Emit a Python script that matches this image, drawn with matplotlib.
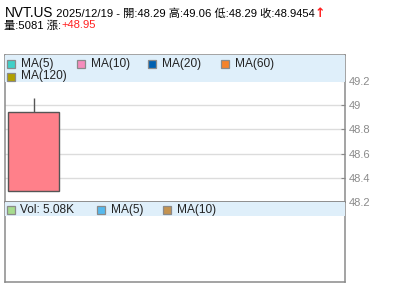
import matplotlib
matplotlib.use('Agg')
import matplotlib.pyplot as plt
from matplotlib.patches import Rectangle

# data
symbol = 'NVT.US'
date = '2025/12/19'
opens = [48.29]
highs = [49.06]
lows = [48.29]
closes = [48.9454]
volumes = [5081]
change = 48.95
yticks = [48.2, 48.4, 48.6, 48.8, 49.0, 49.2]
ma_names = ['MA(5)', 'MA(10)', 'MA(20)', 'MA(60)', 'MA(120)']
ma_colors = ['#3fd0c8', '#f58cbc', '#0060b0', '#f5822a', '#b0a000']
vol_names = ['MA(5)', 'MA(10)']
vol_colors = ['#55b9ee', '#c49350']

FONT = ['Liberation Sans', 'Noto Sans CJK TC', 'DejaVu Sans']
plt.rcParams['font.family'] = FONT

W, H = 400, 301
fig = plt.figure(figsize=(W / 100, H / 100), dpi=100)

def fx(px):
    return px / W

def fy(py):
    return 1 - py / H

frame_col = '#8a8a8a'
band_col = '#dfeffa'

# panels
ax = fig.add_axes([fx(5.3), fy(202), fx(345) - fx(5.3), fy(55) - fy(202)])
axv = fig.add_axes([fx(5.3), fy(282.3), fx(345) - fx(5.3), fy(202) - fy(282.3)])

for a in (ax, axv):
    for s in a.spines.values():
        s.set_color(frame_col)
        s.set_linewidth(1.1)

# candles
x = range(len(opens))
for i in x:
    o, h, l, c = opens[i], highs[i], lows[i], closes[i]
    up = c >= o
    ax.vlines(i, max(o, c), h, color='#555555', lw=1, zorder=3)
    ax.vlines(i, l, min(o, c), color='#555555', lw=1, zorder=3)
    ax.bar(i, abs(c - o), bottom=min(o, c), width=0.89,
           color='#ff808a' if up else '#7fd07f', edgecolor='#555555',
           linewidth=1, zorder=4)

ax.set_xlim(-0.5, 5.5)
ax.set_ylim(48.2, 49.415)
ax.set_xticks([])
ax.yaxis.tick_right()
ax.set_yticks(yticks)
ax.set_yticklabels(['%g' % t for t in yticks])
ax.tick_params(axis='y', direction='in', length=3, color=frame_col,
               labelcolor='#8a8a8a', labelsize=8, pad=3)
for t in yticks[1:-1]:
    ax.axhline(t, color='#dcdcdc', lw=1, zorder=1)

# legend bands
ax.add_patch(Rectangle((0, (202 - 82) / 147), 1, 1 - (202 - 82) / 147,
                       transform=ax.transAxes, color=band_col, lw=0, zorder=5))
axv.add_patch(Rectangle((0, (282.3 - 216) / 80.3), 1, 1 - (282.3 - 216) / 80.3,
                        transform=axv.transAxes, color=band_col, lw=0, zorder=5))

axv.set_xlim(-0.5, 5.5)
axv.set_xticks([])
axv.set_yticks([])

# legend entries (pixel layout)
def legend_item(px, py, color, label):
    fig.patches.append(Rectangle((fx(px), fy(py + 4)), fx(8), 8 / H,
                                 transform=fig.transFigure, facecolor=color,
                                 edgecolor='#8a8a8a', lw=0.9, zorder=10))
    fig.text(fx(px + 14), fy(py), label, fontsize=8.6, va='center', ha='left',
             color='#222222', zorder=10)

ma_pos = [(6.5, 63.5), (77, 63.5), (148, 63.5), (221, 63.5), (6.5, 76.5)]
for (px, py), col, name in zip(ma_pos, ma_colors, ma_names):
    legend_item(px, py, col, name)

legend_item(6.5, 210, '#a6dc8e', 'Vol: %.2fK' % (volumes[-1] / 1000))
for px, col, name in zip([97, 163], vol_colors, vol_names):
    legend_item(px, 210, col, name)

# header: pieces on a shared baseline
renderer = fig.canvas.get_renderer()

def text_run(py, pieces):
    xpos = 4.5
    for s, size, col, kw in pieces:
        t = fig.text(fx(xpos), fy(py), s, fontsize=size, color=col,
                     va='baseline', ha='left', **kw)
        xpos += t.get_window_extent(renderer).width

info = ' %s - 開:%.2f 高:%.2f 低:%.2f 收:%.4f' % (date, opens[-1], highs[-1],
                                               lows[-1], closes[-1])
text_run(17, [(symbol, 9.8, 'black', {}),
              (info, 8.1, 'black', {}),
              ('↑', 9, '#ff2020', {'fontweight': 'bold', 'family': 'DejaVu Sans'})])
text_run(28.5, [('量:%d 漲:' % volumes[-1], 8.1, 'black', {}),
                ('+%.2f' % change, 8.1, '#ff2020', {})])

fig.savefig('out.png', dpi=100)
